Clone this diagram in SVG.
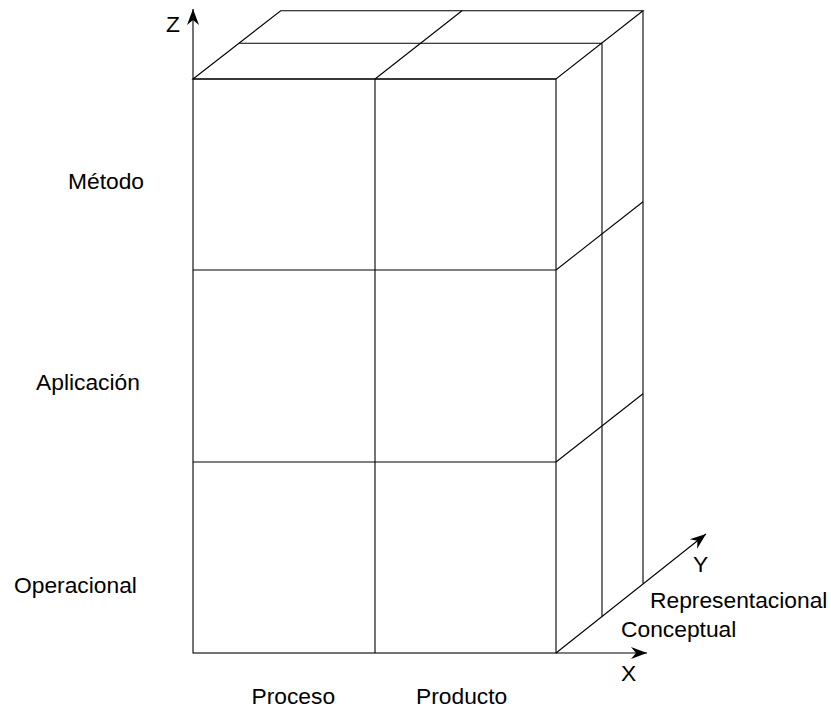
<svg xmlns="http://www.w3.org/2000/svg" width="831" height="708" viewBox="0 0 831 708">
<style>
.l{fill:none;stroke:#000;stroke-width:1.1}
.t{font-family:"Liberation Sans",Arial,Helvetica,sans-serif;font-size:22.8px;fill:#000}
</style>
<defs>
<marker id="ah" markerUnits="userSpaceOnUse" markerWidth="20" markerHeight="14" viewBox="-17 -7 19 14" refX="0" refY="0" orient="auto">
<path d="M0,0 L-16,-6 L-11,0 L-16,6 Z" fill="#000"/>
</marker>
</defs>
<rect width="831" height="708" fill="#fff"/>
<g id="cube">
<g id="front">
<rect class="l" x="193" y="79" width="363" height="574"/>
<line class="l" x1="375" y1="79" x2="375" y2="653"/>
<line class="l" x1="193" y1="270" x2="556" y2="270"/>
<line class="l" x1="193" y1="462" x2="556" y2="462"/>
</g>
<g id="top">
<polygon class="l" points="193,79 280.7,10.7 643,10.7 556,79"/>
<line class="l" x1="239.3" y1="43.3" x2="602" y2="43.3"/>
<line class="l" x1="375" y1="79" x2="462" y2="10.7"/>
</g>
<g id="side">
<line class="l" x1="643" y1="10.7" x2="643" y2="583.6"/>
<line class="l" x1="602" y1="43.3" x2="602" y2="616.4"/>
<line class="l" x1="556" y1="270" x2="643" y2="201.7"/>
<line class="l" x1="556" y1="462" x2="643" y2="393.7"/>
</g>
</g>
<g id="axes">
<line class="l" x1="193" y1="79" x2="193" y2="9" marker-end="url(#ah)"/>
<line class="l" x1="556" y1="653" x2="647" y2="653" marker-end="url(#ah)"/>
<line class="l" x1="556" y1="653" x2="706" y2="534" marker-end="url(#ah)"/>
</g>
<g id="labels">
<text class="t" x="166" y="31.5">Z</text>
<text class="t" x="621" y="681">X</text>
<text class="t" x="693" y="572">Y</text>
<text class="t" x="68" y="188.5">Método</text>
<text class="t" x="36" y="389.5">Aplicación</text>
<text class="t" x="14" y="592.5">Operacional</text>
<text class="t" x="251.5" y="704">Proceso</text>
<text class="t" x="416" y="704">Producto</text>
<text class="t" x="650" y="607.5">Representacional</text>
<text class="t" x="621" y="637">Conceptual</text>
</g>
</svg>
